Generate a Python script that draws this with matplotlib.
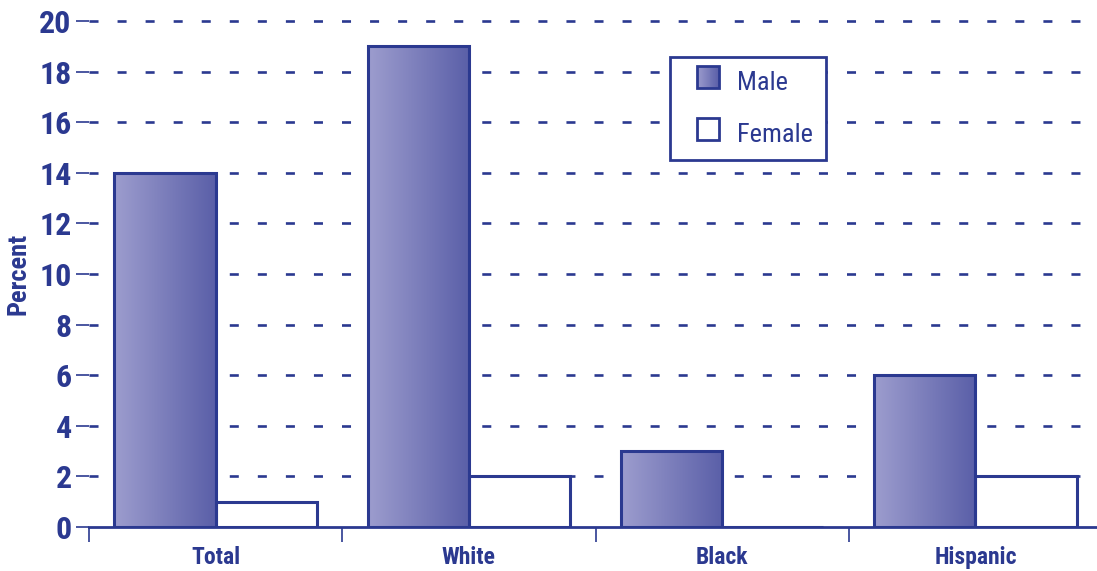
import numpy as np
import matplotlib
matplotlib.use("Agg")
import matplotlib.pyplot as plt
import matplotlib.patheffects as pe
from matplotlib.patches import Rectangle
from matplotlib.legend_handler import HandlerBase
from matplotlib.colors import LinearSegmentedColormap
from matplotlib import font_manager as fm

groups = ["Total", "White", "Black", "Hispanic"]
male = [14, 19, 3, 6]
female = [1, 2, 0, 2]
yticks = list(range(0, 21, 2))

BLUE = "#2B3990"
grad = LinearSegmentedColormap.from_list("bar", ["#9D9DCE", "#5A5FA8"])

# pick a narrow face; thicken it by hand if there is no bold cut
fonts = fm.fontManager.ttflist
names = {f.name for f in fonts}
narrow = [n for n in ["Liberation Sans Narrow", "Roboto Condensed", "Open Sans Condensed"]
          if n in names] or sorted(n for n in names if "Narrow" in n or "Condensed" in n)
fam = narrow[:1] + ["DejaVu Sans"]
has_bold = bool(narrow) and any(f.name == narrow[0] and f.weight in (700, "bold") for f in fonts)
plt.rcParams["font.family"] = fam
plt.rcParams["font.stretch"] = "condensed"
plt.rcParams["lines.scale_dashes"] = False

if has_bold:
    heavy = dict(fontweight="bold")
else:
    heavy = dict(path_effects=[pe.withStroke(linewidth=1.6, foreground=BLUE)])

fig = plt.figure(figsize=(10.97, 5.71), dpi=100)
ax = fig.add_axes([89 / 1097, 44 / 571, 1008 / 1097, 506 / 571])

x = np.arange(len(groups))
w = 0.4

# dashed guide lines behind the bars
ax.hlines(yticks[1:], -0.5, 3.45, colors=BLUE, lw=1.9,
          linestyles=(0, (6.5, 13.7)), zorder=0, clip_on=False)

mbars = ax.bar(x - w / 2, male, w, facecolor="none", edgecolor=BLUE, lw=2.2, zorder=3)
fbars = ax.bar(x + w / 2, female, w, facecolor="white", edgecolor=BLUE, lw=2.2, zorder=2)

# horizontal gradient inside each male bar
g = np.linspace(0, 1, 256).reshape(1, -1)
for b in mbars:
    x0, y0 = b.get_x(), b.get_y()
    im = ax.imshow(g, cmap=grad, aspect="auto", zorder=2.5,
                   extent=(x0, x0 + b.get_width(), y0, y0 + b.get_height()))
    im.set_clip_path(b)

ax.set_xlim(-0.5, 3.48)
ax.set_ylim(0, 20)

ax.set_yticks(yticks)
ax.set_yticklabels([str(t) for t in yticks], fontsize=23, color=BLUE, **heavy)
ax.tick_params(axis="y", length=9.5, width=1.2, color=BLUE, pad=3)

ax.set_xticks(np.arange(-0.5, 3.0, 1.0))
ax.set_xticklabels([])
ax.set_xticks(x, minor=True)
ax.set_xticklabels(groups, minor=True, fontsize=17, color=BLUE, **heavy)
ax.tick_params(axis="x", which="major", length=11, width=1.2, color=BLUE, direction="out")
ax.tick_params(axis="x", which="minor", length=0, pad=14)

for s in ["top", "right", "left"]:
    ax.spines[s].set_visible(False)
ax.spines["bottom"].set_color(BLUE)
ax.spines["bottom"].set_linewidth(2)
ax.spines["bottom"].set_zorder(4)

ax.set_ylabel("Percent", fontsize=19, color=BLUE, labelpad=6, **heavy)


class SwatchHandler(HandlerBase):
    """Square swatch drawn at the right end of the handle box."""

    def __init__(self, gradient):
        super().__init__()
        self.gradient = gradient

    def create_artists(self, legend, orig, xd, yd, width, height, fontsize, trans):
        side = height
        x0 = xd + width - side
        parts = []
        if self.gradient:
            n = 24
            for i in range(n):
                parts.append(Rectangle((x0 + side * i / n, yd), side / n + 0.3, side,
                                       facecolor=grad(i / (n - 1)), edgecolor="none",
                                       transform=trans))
            parts.append(Rectangle((x0, yd), side, side, facecolor="none",
                                   edgecolor=BLUE, lw=2, transform=trans))
        else:
            parts.append(Rectangle((x0, yd), side, side, facecolor="white",
                                   edgecolor=BLUE, lw=2, transform=trans))
        return parts


hm = Rectangle((0, 0), 1, 1)
hf = Rectangle((0, 0), 1, 1)
leg = ax.legend([hm, hf], ["Male", "Female"],
                handler_map={hm: SwatchHandler(True), hf: SwatchHandler(False)},
                loc="upper left", bbox_to_anchor=(581 / 1008, 1 - 36 / 506),
                fontsize=19, labelcolor=BLUE, frameon=True, fancybox=False,
                edgecolor=BLUE, handlelength=1.35, handleheight=0.92,
                handletextpad=0.7, labelspacing=1.0, borderpad=0.5, borderaxespad=0)
leg.get_frame().set_linewidth(2)
leg.get_frame().set_alpha(None)
leg.get_frame().set_facecolor("white")
leg.set_zorder(5)

fig.savefig("out.png", dpi=100)
